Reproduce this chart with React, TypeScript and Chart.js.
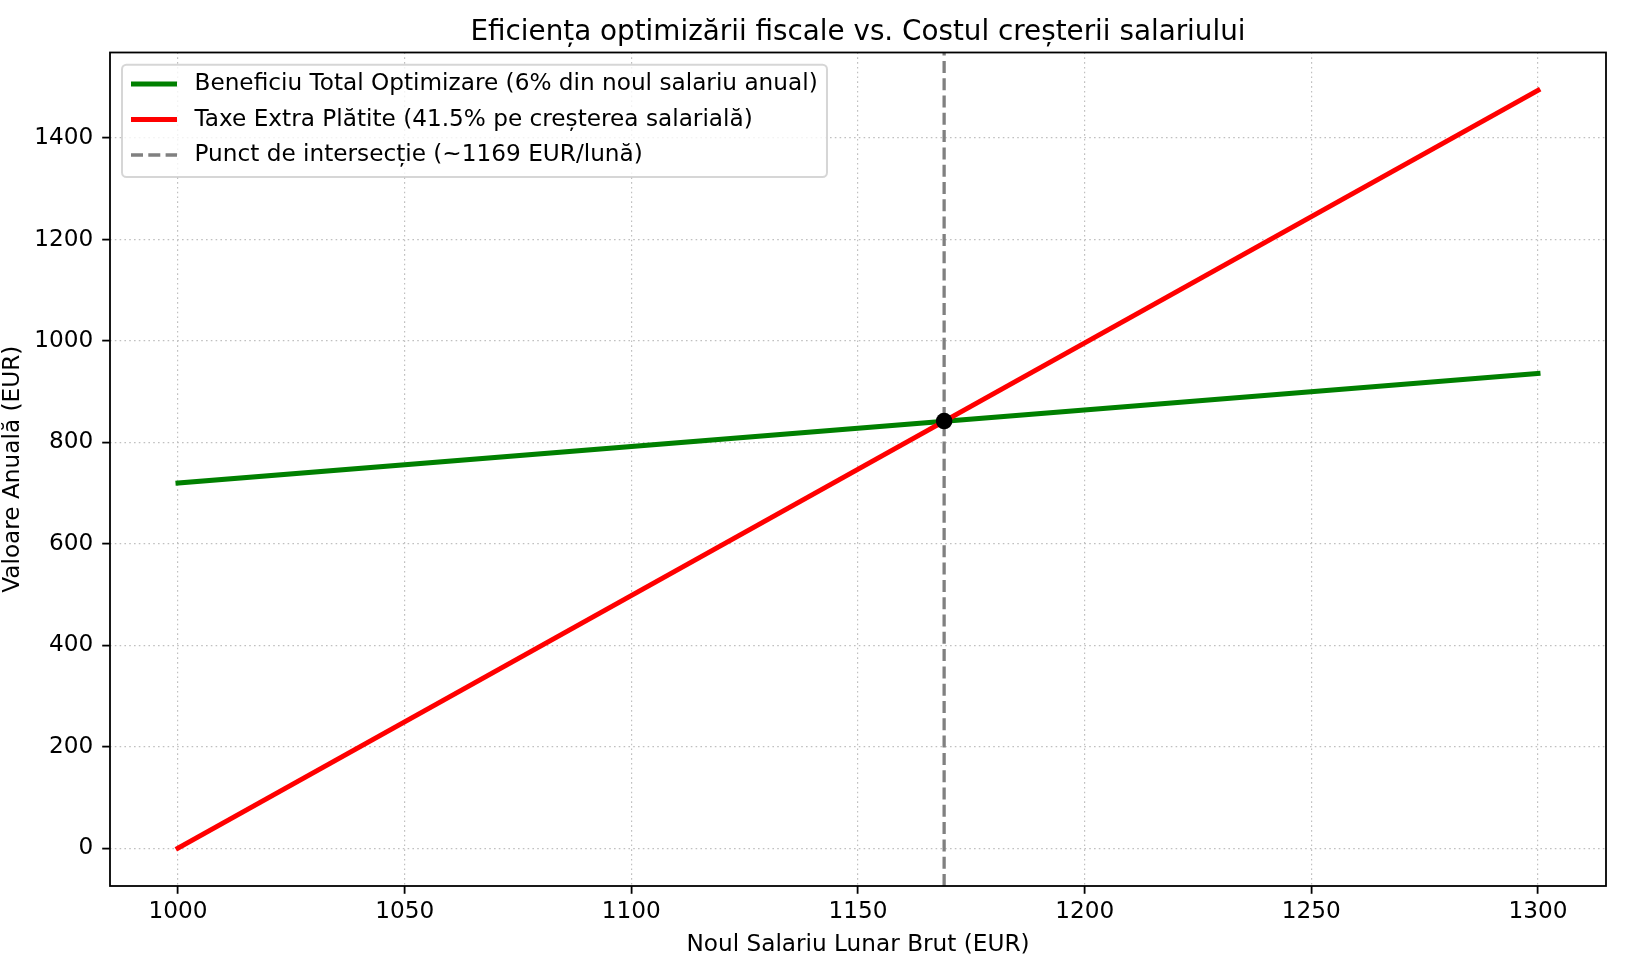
import React, { useEffect, useRef } from 'react';
import { Chart, registerables } from 'chart.js';

Chart.register(...registerables);

const TITLE = 'Eficiența optimizării fiscale vs. Costul creșterii salariului';
const X_TITLE = 'Noul Salariu Lunar Brut (EUR)';
const Y_TITLE = 'Valoare Anuală (EUR)';

const SALARY = [1000, 1300];
const BENEFIT = [720, 936];
const EXTRA_TAX = [0, 1494];
const INTERSECT_X = 1169;
const INTERSECT_Y = 842;

const X_TICKS = [1000, 1050, 1100, 1150, 1200, 1250, 1300];
const Y_TICKS = [0, 200, 400, 600, 800, 1000, 1200, 1400];
const X_MIN = 985;
const X_MAX = 1315;
const Y_MIN = -74.7;
const Y_MAX = 1568.7;

const SERIES_LABELS = [
  'Beneficiu Total Optimizare (6% din noul salariu anual)',
  'Taxe Extra Plătite (41.5% pe creșterea salarială)',
  'Punct de intersecție (~1169 EUR/lună)',
];
const SERIES_COLORS = ['#008000', '#ff0000', '#808080'];

const FONT = '"DejaVu Sans", sans-serif';
const TICK_FS = 23.2;
const TITLE_FS = 27.8;
const LINE_W = 5;
const DASH_W = 3.3;
const DASH = [12, 5.3];

const decorPlugin = {
  id: 'decor',
  afterDraw(chart: any) {
    const ctx = chart.ctx as CanvasRenderingContext2D;
    const ca = chart.chartArea;
    ctx.save();
    // frame
    ctx.strokeStyle = '#000';
    ctx.lineWidth = 1.8;
    ctx.setLineDash([]);
    ctx.strokeRect(ca.left, ca.top, ca.right - ca.left, ca.bottom - ca.top);

    // title
    ctx.fillStyle = '#000';
    ctx.font = `${TITLE_FS}px ${FONT}`;
    ctx.textAlign = 'center';
    ctx.textBaseline = 'alphabetic';
    ctx.fillText(TITLE, (ca.left + ca.right) / 2, 39.5);

    // legend
    ctx.font = `${TICK_FS}px ${FONT}`;
    const textX = 194.5;
    const widths = SERIES_LABELS.map((l) => ctx.measureText(l).width);
    const boxL = 122;
    const boxT = 64.7;
    const boxR = textX + Math.max(...widths) + 9.3;
    const boxB = 177;
    const r = 4.5;
    ctx.beginPath();
    ctx.moveTo(boxL + r, boxT);
    ctx.lineTo(boxR - r, boxT);
    ctx.arcTo(boxR, boxT, boxR, boxT + r, r);
    ctx.lineTo(boxR, boxB - r);
    ctx.arcTo(boxR, boxB, boxR - r, boxB, r);
    ctx.lineTo(boxL + r, boxB);
    ctx.arcTo(boxL, boxB, boxL, boxB - r, r);
    ctx.lineTo(boxL, boxT + r);
    ctx.arcTo(boxL, boxT, boxL + r, boxT, r);
    ctx.closePath();
    ctx.fillStyle = 'rgba(255,255,255,0.8)';
    ctx.fill();
    ctx.strokeStyle = 'rgba(204,204,204,0.8)';
    ctx.lineWidth = 2;
    ctx.stroke();

    const rows = [84, 119.5, 155];
    SERIES_LABELS.forEach((label, i) => {
      const y = rows[i];
      ctx.beginPath();
      ctx.strokeStyle = SERIES_COLORS[i];
      if (i === 2) {
        ctx.lineWidth = DASH_W;
        ctx.setLineDash(DASH);
      } else {
        ctx.lineWidth = LINE_W;
        ctx.setLineDash([]);
      }
      ctx.lineCap = 'butt';
      ctx.moveTo(131, y);
      ctx.lineTo(177, y);
      ctx.stroke();
      ctx.setLineDash([]);
      ctx.fillStyle = '#000';
      ctx.textAlign = 'left';
      ctx.textBaseline = 'middle';
      ctx.fillText(label, textX, y);
    });
    ctx.restore();
  },
};

export default function App() {
  const ref = useRef<HTMLCanvasElement | null>(null);

  useEffect(() => {
    if (!ref.current) return;
    const gridCommon = {
      color: '#c0c0c0',
      lineWidth: 1.2,
      drawTicks: true,
      tickLength: 7.8,
      tickColor: '#000',
      tickWidth: 1.8,
      tickBorderDash: [],
    };
    const fmt = (v: any) => String(v);
    const chart = new Chart(ref.current, {
      type: 'line',
      data: {
        datasets: [
          {
            label: SERIES_LABELS[0],
            data: SALARY.map((x, i) => ({ x, y: BENEFIT[i] })),
            borderColor: SERIES_COLORS[0],
            borderWidth: LINE_W,
            pointRadius: 0,
            borderCapStyle: 'square',
            fill: false,
            tension: 0,
            order: 3,
          },
          {
            label: SERIES_LABELS[1],
            data: SALARY.map((x, i) => ({ x, y: EXTRA_TAX[i] })),
            borderColor: SERIES_COLORS[1],
            borderWidth: LINE_W,
            pointRadius: 0,
            borderCapStyle: 'square',
            fill: false,
            tension: 0,
            order: 2,
          },
          {
            label: SERIES_LABELS[2],
            data: [
              { x: INTERSECT_X, y: Y_MIN },
              { x: INTERSECT_X, y: Y_MAX },
            ],
            borderColor: SERIES_COLORS[2],
            borderWidth: DASH_W,
            borderDash: DASH,
            pointRadius: 0,
            fill: false,
            order: 1,
          },
          {
            label: 'intersect',
            data: [{ x: INTERSECT_X, y: INTERSECT_Y }],
            showLine: false,
            pointRadius: 8.3,
            pointBackgroundColor: '#000',
            pointBorderColor: '#000',
            pointBorderWidth: 0,
            order: 0,
          },
        ],
      },
      options: {
        responsive: false,
        animation: false,
        devicePixelRatio: 1,
        layout: { padding: { left: 0, right: 24, top: 52.5, bottom: 0 } },
        plugins: {
          legend: { display: false },
          title: { display: false },
          tooltip: { enabled: false },
        },
        scales: {
          x: {
            type: 'linear',
            min: X_MIN,
            max: X_MAX,
            grid: gridCommon,
            border: { display: false, dash: [1.6, 3.2] },
            ticks: {
              color: '#000',
              font: { family: FONT, size: TICK_FS },
              padding: 4,
              maxRotation: 0,
              callback: fmt,
            },
            title: {
              display: true,
              text: X_TITLE,
              color: '#000',
              font: { family: FONT, size: TICK_FS, lineHeight: 1.12 },
              padding: { top: 0, bottom: 8 },
            },
            afterBuildTicks: (scale: any) => {
              scale.ticks = X_TICKS.map((v) => ({ value: v }));
            },
            afterFit: (scale: any) => {
              scale.height = 80;
            },
          },
          y: {
            type: 'linear',
            min: Y_MIN,
            max: Y_MAX,
            grid: gridCommon,
            border: { display: false, dash: [1.6, 3.2] },
            ticks: {
              color: '#000',
              font: { family: FONT, size: TICK_FS },
              padding: 9,
              callback: fmt,
            },
            title: {
              display: true,
              text: Y_TITLE,
              color: '#000',
              font: { family: FONT, size: TICK_FS, lineHeight: 1.1 },
              padding: { top: 0, bottom: 0 },
            },
            afterBuildTicks: (scale: any) => {
              scale.ticks = Y_TICKS.map((v) => ({ value: v }));
            },
            afterFit: (scale: any) => {
              scale.width = 110;
            },
          },
        },
      },
      plugins: [decorPlugin],
    } as any);
    return () => chart.destroy();
  }, []);

  return (
    <div
      style={{
        position: 'fixed',
        left: 0,
        top: 0,
        width: 1630,
        height: 966,
        background: '#fff',
      }}
    >
      <canvas ref={ref} width={1630} height={966} style={{ width: 1630, height: 966, display: 'block' }} />
    </div>
  );
}
